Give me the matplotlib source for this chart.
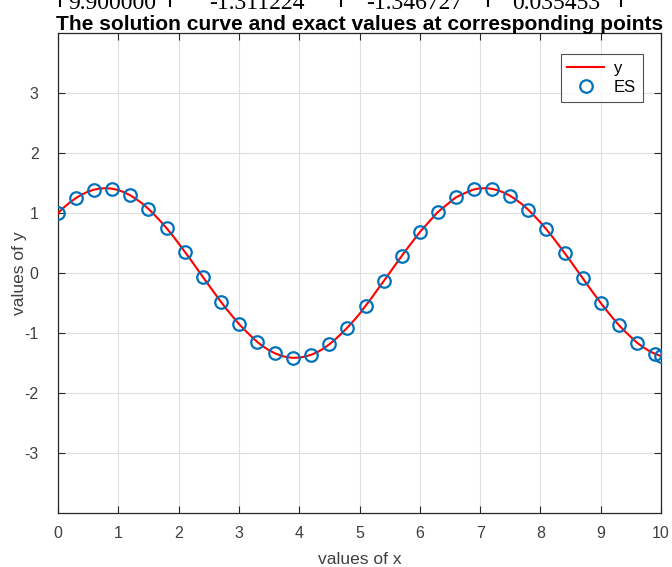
import matplotlib.pyplot as plt
from matplotlib.lines import Line2D

# ES: exact values at the sample points
es_x = [0, 0.3, 0.6, 0.9, 1.2, 1.5, 1.8, 2.1, 2.4, 2.7, 3.0, 3.3, 3.6, 3.9, 4.2, 4.5, 4.8,
        5.1, 5.4, 5.7, 6.0, 6.3, 6.6, 6.9, 7.2, 7.5, 7.8, 8.1, 8.4, 8.7, 9.0, 9.3, 9.6, 9.9, 10.0]
es_y = [1.000, 1.251, 1.390, 1.405, 1.294, 1.068, 0.747, 0.358, -0.062, -0.477, -0.849,
        -1.145, -1.339, -1.414, -1.362, -1.188, -0.909, -0.548, -0.138, 0.284, 0.681,
        1.017, 1.262, 1.394, 1.402, 1.285, 1.053, 0.726, 0.335, -0.085, -0.499, -0.868,
        -1.159, -1.347, -1.383]

# y: solution curve
y_x = [i / 10 for i in range(101)]
y_vals = [1.000, 1.095, 1.178, 1.251, 1.310, 1.357, 1.390, 1.409, 1.414, 1.405,
          1.382, 1.344, 1.294, 1.231, 1.156, 1.068, 0.969, 0.863, 0.747, 0.626,
          0.493, 0.358, 0.220, 0.080, -0.062, -0.202, -0.341, -0.477, -0.607, -0.730,
          -0.849, -0.953, -1.051, -1.145, -1.223, -1.288, -1.339, -1.379, -1.403, -1.414,
          -1.410, -1.392, -1.362, -1.319, -1.262, -1.188, -1.105, -1.011, -0.909, -0.799,
          -0.682, -0.548, -0.416, -0.274, -0.138, 0.003, 0.144, 0.284, 0.420, 0.550,
          0.681, 0.794, 0.906, 1.017, 1.099, 1.182, 1.262, 1.309, 1.356, 1.394,
          1.411, 1.414, 1.402, 1.377, 1.337, 1.285, 1.219, 1.142, 1.053, 0.951,
          0.844, 0.726, 0.602, 0.470, 0.335, 0.197, 0.056, -0.085, -0.226, -0.364,
          -0.499, -0.627, -0.750, -0.868, -0.970, -1.067, -1.159, -1.234, -1.297, -1.347,
          -1.383]

# clipped table row above the figure
row_cells = ['9.900000', '-1.311224', '-1.346727', '0.035453']
row_centers = [112, 257, 414, 556]
row_bars = [60, 170, 341, 488, 621]

W, H = 672, 567
plt.rcParams['font.family'] = ['Liberation Sans', 'DejaVu Sans']
plt.rcParams['axes.unicode_minus'] = False
fig = plt.figure(figsize=(W / 100, H / 100), dpi=100)

ax = fig.add_axes([58 / W, (H - 513) / H, 603 / W, 480 / H])
ax.plot(y_x, y_vals, color='#ff0000', linewidth=1.5, label='y', zorder=3)
ax.plot(es_x, es_y, 'o', markersize=9, markerfacecolor='none',
        markeredgecolor='#0072bd', markeredgewidth=1.6, label='ES', zorder=4)

ax.set_xlim(0, 10)
ax.set_ylim(-4, 4)
ax.set_xticks(range(0, 11))
ax.set_yticks(range(-3, 4))
ax.grid(True, color='#dedede', linewidth=0.8)
ax.set_axisbelow(True)
ax.tick_params(direction='in', top=True, right=True, length=5, width=0.8,
               colors='#262626', labelsize=11.5)
ax.tick_params(axis='x', pad=9)
ax.tick_params(axis='y', pad=14)
ax.tick_params(labelcolor='#404040')
for s in ax.spines.values():
    s.set_color('#262626')
    s.set_linewidth(0.9)

ax.set_xlabel('values of x', fontsize=12.5, color='#404040', labelpad=8)
ax.set_ylabel('values of y', fontsize=12.5, color='#404040')
ax.yaxis.set_label_coords(-0.052, 0.5)
ax.set_title('The solution curve and exact values at corresponding points',
             fontsize=15.1, fontweight='bold', color='black', pad=2.5)

leg = ax.legend(loc='upper right', bbox_to_anchor=(0.970, 0.956), fontsize=12,
                frameon=True, fancybox=False, handlelength=2.2, borderpad=0.4,
                labelspacing=0.25, handletextpad=0.6, borderaxespad=0)
leg.get_frame().set_edgecolor('#262626')
leg.get_frame().set_linewidth(0.8)

# partial table row at the very top
for txt, cx in zip(row_cells, row_centers):
    fig.text(cx / W, 1 - 9 / H, txt, ha='center', va='baseline',
             family='Liberation Serif', fontsize=17, color='black')
for bx in row_bars:
    fig.add_artist(Line2D([bx / W, bx / W], [1, 1 - 6 / H], color='black', linewidth=1.5))

fig.savefig('out.png', dpi=100)
